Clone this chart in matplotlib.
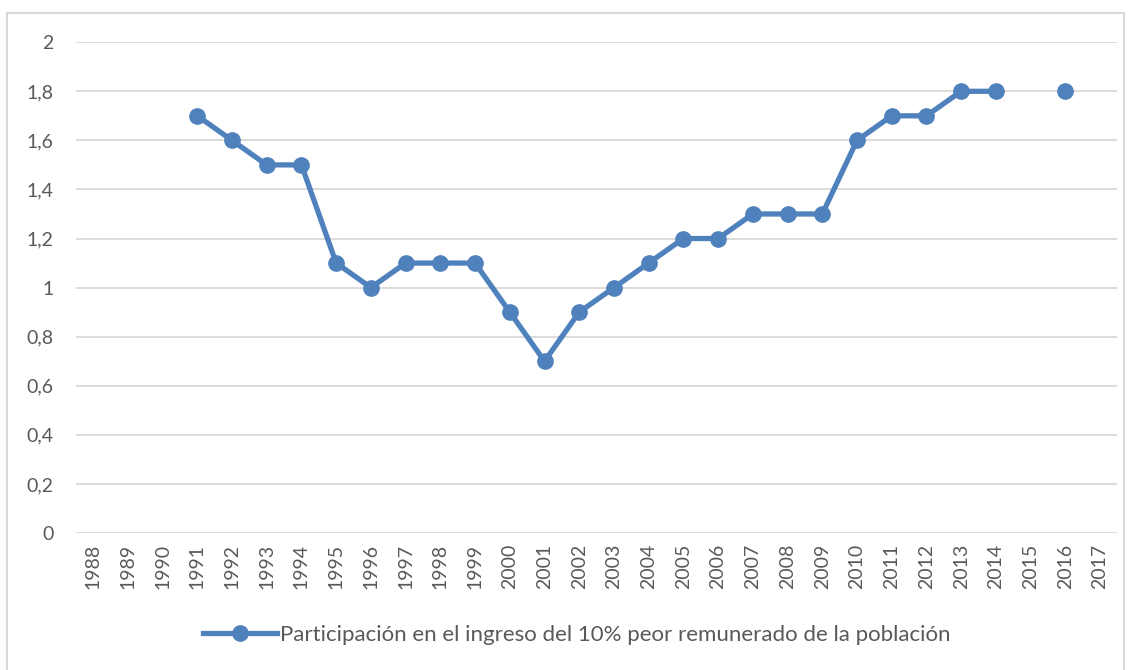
import numpy as np
import matplotlib.pyplot as plt
from matplotlib.patches import Rectangle

plt.rcParams['font.family'] = ['Lato', 'DejaVu Sans']

# Data
years = [str(y) for y in range(1988, 2018)]
values = [np.nan, np.nan, np.nan, 1.7, 1.6, 1.5, 1.5, 1.1, 1.0, 1.1,
          1.1, 1.1, 0.9, 0.7, 0.9, 1.0, 1.1, 1.2, 1.2, 1.3,
          1.3, 1.3, 1.6, 1.7, 1.7, 1.8, 1.8, np.nan, 1.8, np.nan]
y_ticks = [0, 0.2, 0.4, 0.6, 0.8, 1, 1.2, 1.4, 1.6, 1.8, 2]
y_labels = ['0', '0,2', '0,4', '0,6', '0,8', '1', '1,2', '1,4', '1,6', '1,8', '2']
label = 'Participación en el ingreso del 10% peor remunerado de la población'

color = '#4F81BD'
text_gray = '#595959'

fig = plt.figure(figsize=(11.31, 6.70), dpi=100)
ax = fig.add_axes([0.067, 0.2045, 0.921, 0.7325])

x = np.arange(len(years))
ax.plot(x, values, color=color, linewidth=3.8, marker='o', markersize=11,
        label=label, solid_joinstyle='round')

ax.set_xlim(-0.5, len(years) - 0.5)
ax.set_ylim(0, 2)
ax.set_xticks(x)
ax.set_xticklabels(years, rotation=90, fontsize=14, color=text_gray)
ax.set_yticks(y_ticks)
ax.set_yticklabels(y_labels, fontsize=14, color=text_gray)
ax.tick_params(length=0, pad=8)
ax.tick_params(axis='y', pad=16)

ax.grid(axis='y', color='#D9D9D9', linewidth=1.3)
ax.set_axisbelow(True)
for s in ax.spines.values():
    s.set_visible(False)

leg = fig.legend(loc='center', bbox_to_anchor=(0.51, 0.052), frameon=False,
                 fontsize=16, handlelength=3.3, handletextpad=0.15)
for t in leg.get_texts():
    t.set_color(text_gray)

# outer chart border
fig.patches.append(Rectangle((0.006, -0.01), 0.988, 0.99, transform=fig.transFigure,
                             fill=False, edgecolor='#D9D9D9', linewidth=1.5))

fig.savefig('out.png', dpi=100)
